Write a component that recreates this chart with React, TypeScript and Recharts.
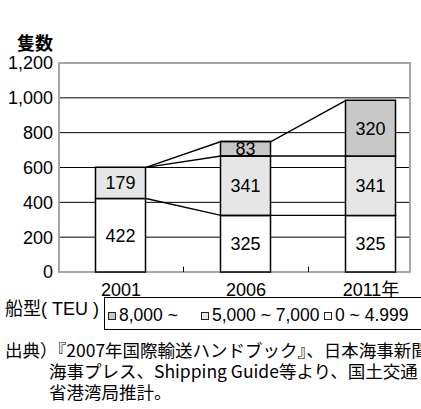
import { ComposedChart, Bar, Line, XAxis, YAxis, CartesianGrid, ReferenceLine, ReferenceArea, LabelList, Legend } from 'recharts'

const years = ['2001', '2006', '2011年']
const small = [422, 325, 325] // 0 ~ 4.999 TEU
const mid = [179, 341, 341] // 5,000 ~ 7,000 TEU
const large = [0, 83, 320] // 8,000 ~ TEU
const yTicks = [0, 200, 400, 600, 800, 1000, 1200]

const NUM_FONT = '"Liberation Sans", Arial, "Noto Sans CJK JP", sans-serif'
const JP_FONT = '"Noto Sans CJK JP", sans-serif'

const data = years.map((year, i) => ({ x: i, year, small: small[i], mid: mid[i], large: large[i] }))

// half bar width in x units (bar 50px, category step 125px)
const HALF = 0.2
const levels = [
  small,
  small.map((v, i) => v + mid[i]),
  small.map((v, i) => v + mid[i] + large[i]),
]
// excel style series lines joining the stacks
const seriesLines = levels.map((level) =>
  level.flatMap((v, i) => {
    if (i === 0) return [{ x: i + HALF, v }]
    if (i === level.length - 1) return [{ x: i - HALF, v }]
    return [{ x: i - HALF, v }, { x: i + HALF, v }]
  })
)
const boundaries = years.slice(1).map((_, i) => i + 0.5)

const X_DOMAIN: [number, number] = [-0.496, 2.312]
const itemWidths = [93, 123, 120]

const renderLegend = (props: any) => {
  const items = (props.payload || []).filter((e: any) => e.dataKey !== 'v' && e.type !== 'none').reverse()
  return (
    <div style={{ display: 'flex', alignItems: 'flex-start', fontFamily: NUM_FONT, fontSize: 17.5, lineHeight: '17px', color: '#000' }}>
      <div style={{ width: 104, paddingTop: 4, paddingLeft: 5, boxSizing: 'border-box', whiteSpace: 'nowrap', fontSize: 18 }}>船型( TEU )</div>
      <div style={{ border: '1px solid #000', height: 33, boxSizing: 'border-box', display: 'flex', paddingTop: 4, paddingLeft: 3, width: 400 }}>
        {items.map((e: any, i: number) => (
          <div key={e.value} style={{ width: itemWidths[i], display: 'flex', alignItems: 'center', whiteSpace: 'nowrap' }}>
            <svg width={8} height={8} style={{ marginRight: 3 }}>
              <rect x={0.5} y={0.5} width={7} height={7} fill={e.color} stroke="#222" strokeWidth={1} />
            </svg>
            {e.value}
          </div>
        ))}
      </div>
    </div>
  )
}

const hideZero = (v: any) => (v ? v : '')

export default function App() {
  return (
    <div style={{ position: 'relative', width: 421, height: 409, overflow: 'hidden', background: '#fff' }}>
      <style>{'body{margin:0}'}</style>
      <div style={{ position: 'absolute', left: 17, top: 33, fontFamily: JP_FONT, fontSize: 18, lineHeight: '18px', fontWeight: 700 }}>隻数</div>
      <ComposedChart width={421} height={409} data={data} margin={{ top: 63, right: 11, left: 0, bottom: 109 }}>
        <CartesianGrid vertical={false} stroke="#000" strokeWidth={1} horizontalValues={[200, 400, 600, 800, 1000]} />
        <ReferenceArea x1={X_DOMAIN[0]} x2={X_DOMAIN[1]} y1={0} y2={1200} fill="none" stroke="#a6a6a6" strokeWidth={2} ifOverflow="visible" />
        <XAxis
          type="number"
          dataKey="x"
          domain={X_DOMAIN}
          ticks={[0, 1, 2]}
          tickFormatter={(v) => years[v]}
          axisLine={false}
          tickLine={false}
          tickSize={0}
          tickMargin={11}
          height={28}
          allowDataOverflow
          tick={{ fill: '#000', fontSize: 18, fontFamily: NUM_FONT }}
        />
        <XAxis xAxisId="l" type="number" dataKey="x" domain={X_DOMAIN} allowDataOverflow hide />
        <YAxis
          type="number"
          domain={[0, 1200]}
          ticks={yTicks}
          tickFormatter={(v) => v.toLocaleString('en-US')}
          axisLine={false}
          tickLine={false}
          tickSize={0}
          tickMargin={6}
          width={59}
          tick={{ fill: '#000', fontSize: 18, fontFamily: NUM_FONT }}
        />
        {boundaries.map((b) => (
          <ReferenceLine key={b} segment={[{ x: b, y: 0 }, { x: b, y: 30 }]} stroke="#000" strokeWidth={1} />
        ))}
        <Bar dataKey="small" name="0 ~ 4.999" stackId="a" fill="#ffffff" stroke="#000" strokeWidth={1.5} barSize={50} isAnimationActive={false}>
          <LabelList dataKey="small" position="center" fill="#000" fontSize={18} fontFamily={NUM_FONT} />
        </Bar>
        <Bar dataKey="mid" name="5,000 ~ 7,000" stackId="a" fill="#e6e6e6" stroke="#000" strokeWidth={1.5} barSize={50} isAnimationActive={false}>
          <LabelList dataKey="mid" position="center" fill="#000" fontSize={18} fontFamily={NUM_FONT} />
        </Bar>
        <Bar dataKey="large" name="8,000 ~" stackId="a" fill="#c8c8c8" stroke="#000" strokeWidth={1.5} barSize={50} isAnimationActive={false}>
          <LabelList dataKey="large" position="center" fill="#000" fontSize={18} fontFamily={NUM_FONT} formatter={hideZero} />
        </Bar>
        {seriesLines.map((pts, i) => (
          <Line
            key={i}
            xAxisId="l"
            data={pts}
            dataKey="v"
            type="linear"
            stroke="#000"
            strokeWidth={1.4}
            dot={false}
            activeDot={false}
            legendType="none"
            isAnimationActive={false}
          />
        ))}
        <Legend
          layout="horizontal"
          verticalAlign="middle"
          align="center"
          content={renderLegend}
          wrapperStyle={{ top: 297, left: 0, width: 520, height: 34 }}
        />
      </ComposedChart>
      <div style={{ position: 'absolute', left: 5, top: 339, fontFamily: JP_FONT, fontSize: 17.5, lineHeight: '21px', color: '#000', whiteSpace: 'nowrap' }}>
        <div>出典）『2007年国際輸送ハンドブック』、日本海事新聞</div>
        <div style={{ paddingLeft: 44 }}>海事プレス、Shipping Guide等より、国土交通</div>
        <div style={{ paddingLeft: 44 }}>省港湾局推計。</div>
      </div>
    </div>
  )
}
